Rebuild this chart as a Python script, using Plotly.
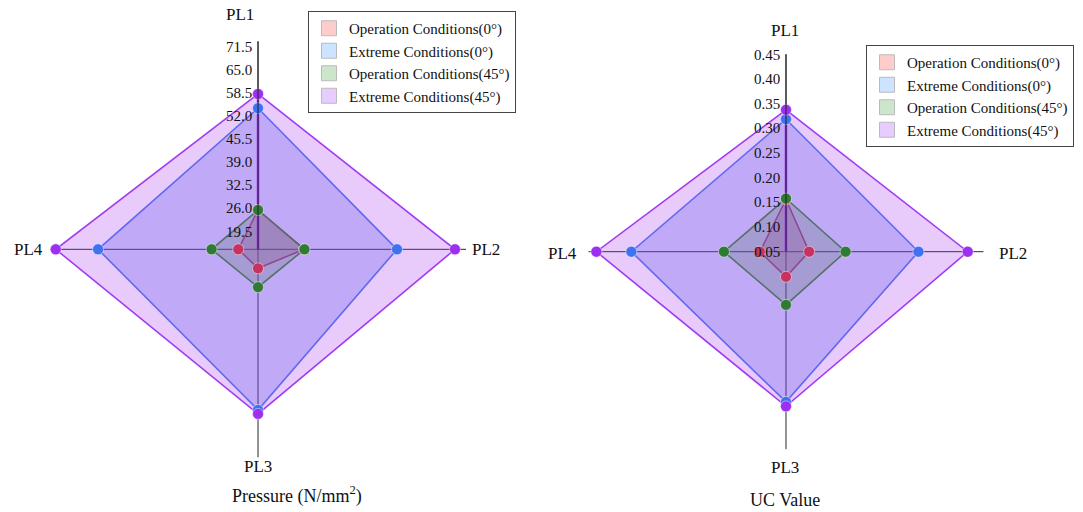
import plotly.graph_objects as go

categories = ["PL1", "PL2", "PL3", "PL4"]
series_names = [
    "Operation Conditions(0°)",
    "Extreme Conditions(0°)",
    "Operation Conditions(45°)",
    "Extreme Conditions(45°)",
]

# Pressure (N/mm^2)
pressure_op0 = [25.6, 27.5, 19.9, 20.1]
pressure_ext0 = [54.2, 53.6, 59.7, 59.5]
pressure_op45 = [25.6, 27.6, 25.2, 27.6]
pressure_ext45 = [58.2, 69.9, 60.8, 71.4]
pressure_ticks = [19.5, 26.0, 32.5, 39.0, 45.5, 52.0, 58.5, 65.0, 71.5]
pressure_range = [14.55, 73.0]

# UC value
uc_op0 = [0.156, 0.097, 0.101, 0.103]
uc_ext0 = [0.319, 0.319, 0.355, 0.364]
uc_op45 = [0.158, 0.171, 0.158, 0.176]
uc_ext45 = [0.338, 0.419, 0.364, 0.435]
uc_ticks = [0.05, 0.10, 0.15, 0.20, 0.25, 0.30, 0.35, 0.40, 0.45]
uc_range = [0.05, 0.451]

line_colors = ["#cc3366", "#4a7cf3", "#3a883a", "#a23cf2"]
marker_colors = ["#c8325f", "#3f72f0", "#2f7a34", "#9d2ff0"]
fill_colors = ["rgba(220,60,100,0.28)", "rgba(60,100,235,0.27)",
               "rgba(50,140,60,0.25)", "rgba(165,45,240,0.25)"]
legend_colors = ["#ffcccc", "#cce4ff", "#cce6cc", "#e6ccff"]

FONT = "Liberation Serif"

fig = go.Figure()


def add_chart(values_list, rng, subplot, legend):
    # filled polygons
    for i in range(4):
        vals = values_list[i]
        fig.add_trace(go.Scatterpolar(
            r=vals + vals[:1], theta=categories + categories[:1],
            mode="lines", fill="toself",
            fillcolor=fill_colors[i],
            line=dict(color=line_colors[i], width=1.6),
            showlegend=False, subplot=subplot, hoverinfo="skip"))
    # purple line from centre to PL1
    fig.add_trace(go.Scatterpolar(
        r=[rng[0], values_list[3][0]], theta=[categories[0], categories[0]],
        mode="lines", line=dict(color="#9b2ff0", width=2.5),
        showlegend=False, subplot=subplot, hoverinfo="skip"))
    # point markers on top
    for i in range(4):
        fig.add_trace(go.Scatterpolar(
            r=values_list[i], theta=categories, mode="markers",
            marker=dict(color=marker_colors[i], size=11,
                        line=dict(color="rgba(255,255,255,0.45)", width=1)),
            showlegend=False, subplot=subplot, hoverinfo="skip"))
    # legend entries
    for i in range(4):
        fig.add_trace(go.Scatterpolar(
            r=[None], theta=[None], mode="markers", name=series_names[i],
            marker=dict(symbol="square", size=15, color=legend_colors[i],
                        line=dict(color="#bbbbbb", width=1)),
            showlegend=True, subplot=subplot, legend=legend))


add_chart([pressure_op0, pressure_ext0, pressure_op45, pressure_ext45],
          pressure_range, "polar", "legend")
add_chart([uc_op0, uc_ext0, uc_op45, uc_ext45], uc_range, "polar2", "legend2")


def polar_layout(domx, domy, rng, ticks, fmt):
    return dict(
        domain=dict(x=domx, y=domy),
        bgcolor="white",
        radialaxis=dict(range=rng, tickvals=ticks,
                        ticktext=[fmt.format(t) for t in ticks],
                        angle=90, tickangle=90, side="counterclockwise",
                        showgrid=False, showline=True, linecolor="#222",
                        linewidth=1, ticks="",
                        tickfont=dict(family=FONT, size=15, color="#111")),
        angularaxis=dict(type="category", categoryarray=categories,
                         direction="clockwise", rotation=90,
                         showline=False, showgrid=True, gridcolor="#2a2a2a",
                         gridwidth=1, showticklabels=False, ticks=""),
    )


W, H = 1083, 512
legend_style = dict(xanchor="left", yanchor="top",
                    bordercolor="#444", borderwidth=1, bgcolor="white",
                    font=dict(family=FONT, size=15, color="#111"),
                    tracegroupgap=0)
fig.update_layout(
    width=W, height=H,
    margin=dict(l=0, r=0, t=0, b=0),
    paper_bgcolor="white",
    font=dict(family=FONT, color="#111"),
    polar=polar_layout([0.0462, 0.4303], [0.1068, 0.9193],
                       pressure_range, pressure_ticks, "{:.1f}"),
    polar2=polar_layout([0.5434, 0.9081], [0.1227, 0.8941],
                        uc_range, uc_ticks, "{:.2f}"),
    legend=dict(x=308 / W, y=1 - 11 / H, **legend_style),
    legend2=dict(x=866 / W, y=1 - 45 / H, **legend_style),
)

label_pos_left = [(240, 14), (486, 249), (258, 466), (28, 249)]
label_pos_right = [(785, 30), (1013, 253), (785, 467), (562, 253)]
for cat, (x, y) in zip(categories, label_pos_left):
    fig.add_annotation(x=x / W, y=1 - y / H, xref="paper", yref="paper",
                       xanchor="center", yanchor="middle",
                       text=cat, showarrow=False,
                       font=dict(family=FONT, size=17, color="#111"))
for cat, (x, y) in zip(categories, label_pos_right):
    fig.add_annotation(x=x / W, y=1 - y / H, xref="paper", yref="paper",
                       xanchor="center", yanchor="middle",
                       text=cat, showarrow=False,
                       font=dict(family=FONT, size=17, color="#111"))

fig.add_annotation(x=297 / W, y=1 - 495 / H, xref="paper", yref="paper",
                   xanchor="center", yanchor="middle",
                   text="Pressure (N/mm<sup>2</sup>)", showarrow=False,
                   font=dict(family=FONT, size=18, color="#111"))
fig.add_annotation(x=785 / W, y=1 - 500 / H, xref="paper", yref="paper",
                   xanchor="center", yanchor="middle",
                   text="UC Value", showarrow=False,
                   font=dict(family=FONT, size=18, color="#111"))

fig.write_html("out.html", config={"displayModeBar": False},
               post_script="document.body.style.margin='0';"
                           "document.body.style.overflow='hidden';")
